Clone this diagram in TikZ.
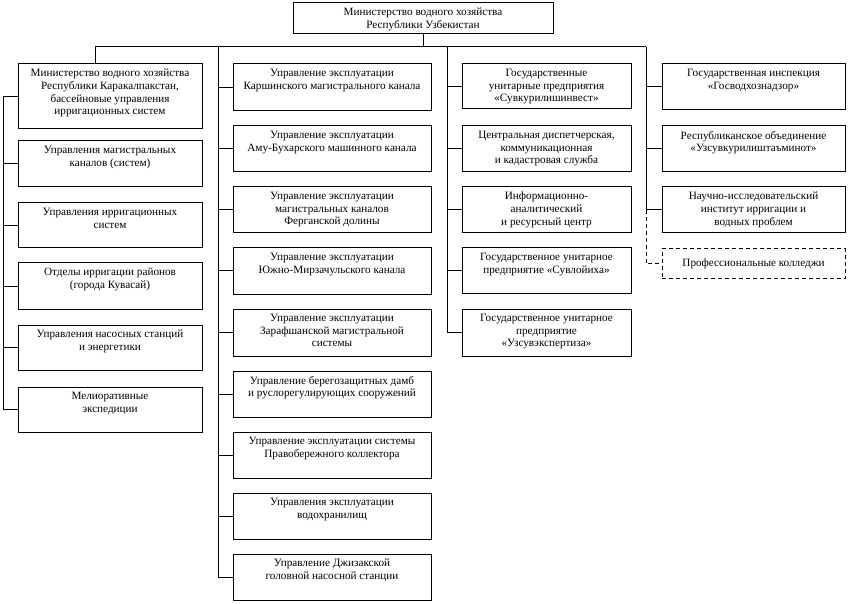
\documentclass[tikz,border=0pt]{standalone}
\usepackage{fontspec}
\setmainfont{Liberation Serif}
\begin{document}
\begin{tikzpicture}[x=1pt,y=-1pt,
  bx/.style={draw=black, line width=1pt, rectangle, inner sep=0pt},
  dbx/.style={bx, dash pattern=on 4pt off 3pt},
  tx/.style={anchor=north, align=center, inner sep=0pt, font=\fontsize{11.2}{12.6}\selectfont},
  ln/.style={draw=black, line width=1pt},
  dln/.style={ln, dash pattern=on 4pt off 3pt}]
\useasboundingbox (0,0) rectangle (849,604);
\newcommand{\obox}[7][bx]{%
  \node[#1, minimum width={#5-#3}, minimum height={#6-#4}] (#2) at ({(#3+#5)/2},{(#4+#6)/2}) {};
  \node[tx] (#2-t) at ([yshift=-5.5pt]#2.north) {#7};}
% top
\obox{top}{293}{3}{553}{34}{Министерство водного хозяйства\\Республики Узбекистан}
% column 1
\obox{c1a}{18}{64}{202}{129}{Министерство водного хозяйства\\Республики Каракалпакстан,\\бассейновые управления\\ирригационных систем}
\obox{c1b}{18}{141}{202}{187}{Управления магистральных\\каналов (систем)}
\obox{c1c}{18}{203}{202}{248}{Управления ирригационных\\систем}
\obox{c1d}{18}{263}{202}{309}{Отделы ирригации районов\\(города Кувасай)}
\obox{c1e}{18}{325}{202}{370}{Управления насосных станций\\и энергетики}
\obox{c1f}{18}{387}{202}{432}{Мелиоративные\\экспедиции}
% column 2
\obox{c2a}{233}{64}{431}{111}{Управление эксплуатации\\Каршинского магистрального канала}
\obox{c2b}{233}{126}{431}{172}{Управление эксплуатации\\Аму-Бухарского машинного канала}
\obox{c2c}{233}{187}{431}{233}{Управление эксплуатации\\магистральных каналов\\Ферганской долины}
\obox{c2d}{233}{248}{431}{294}{Управление эксплуатации\\Южно-Мирзачульского канала}
\obox{c2e}{233}{309}{431}{356}{Управление эксплуатации\\Зарафшанской магистральной\\системы}
\obox{c2f}{233}{371}{431}{417}{Управление берегозащитных дамб\\и руслорегулирующих сооружений}
\obox{c2g}{233}{432}{431}{478}{Управление эксплуатации системы\\Правобережного коллектора}
\obox{c2h}{233}{493}{431}{539}{Управления эксплуатации\\водохранилищ}
\obox{c2i}{233}{554}{431}{600}{Управление Джизакской\\головной насосной станции}
% column 3
\obox{c3a}{462}{64}{631}{109}{Государственные\\унитарные предприятия\\«Сувкурилишинвест»}
\obox{c3b}{462}{126}{631}{172}{Центральная диспетчерская,\\коммуникационная\\и кадастровая служба}
\obox{c3c}{462}{187}{631}{233}{Информационно-\\аналитический\\и ресурсный центр}
\obox{c3d}{462}{248}{631}{293}{Государственное унитарное\\предприятие «Сувлойиха»}
\obox{c3e}{462}{309}{631}{356}{Государственное унитарное\\предприятие\\«Узсувэкспертиза»}
% column 4
\obox{c4a}{662}{64}{845}{110}{Государственная инспекция\\«Госводхознадзор»}
\obox{c4b}{662}{126}{845}{172}{Республиканское объединение\\«Узсувкурилиштаъминот»}
\obox{c4c}{662}{187}{845}{233}{Научно-исследовательский\\институт ирригации и\\водных проблем}
\node[dbx, minimum width=183, minimum height=30] (c4d) at (753.5,264) {};
\node[tx, anchor=center] (c4d-t) at (c4d.center) {Профессиональные колледжи};
% buses
\coordinate (hL) at (95,47);
\coordinate (hR) at (646,47);
\coordinate (b2) at (218,47);
\coordinate (b3) at (447,47);
\coordinate (L) at (3,0);
\draw[ln] (top.south) -- (top.south |- hL);
\draw[ln] (hL) -- (hR);
\draw[ln] (hL) -- (hL |- c1a.north);
% column 1 left bus
\draw[ln] (c1a.west) -- (c1a.west -| L) -- (c1f.west -| L) -- (c1f.west);
\foreach \n in {c1b,c1c,c1d,c1e} \draw[ln] (\n.west -| L) -- (\n.west);
% column 2
\draw[ln] (b2) |- (c2i.west);
\foreach \n in {c2a,c2b,c2c,c2d,c2e,c2f,c2g,c2h} \draw[ln] (\n.west -| b2) -- (\n.west);
% column 3
\draw[ln] (b3) |- (c3e.west);
\foreach \n in {c3a,c3b,c3c,c3d} \draw[ln] (\n.west -| b3) -- (\n.west);
% column 4
\draw[ln] (hR) |- (c4c.west);
\foreach \n in {c4a,c4b} \draw[ln] (\n.west -| hR) -- (\n.west);
\draw[dln] (c4c.west -| hR) |- (c4d.west);
\end{tikzpicture}
\end{document}
